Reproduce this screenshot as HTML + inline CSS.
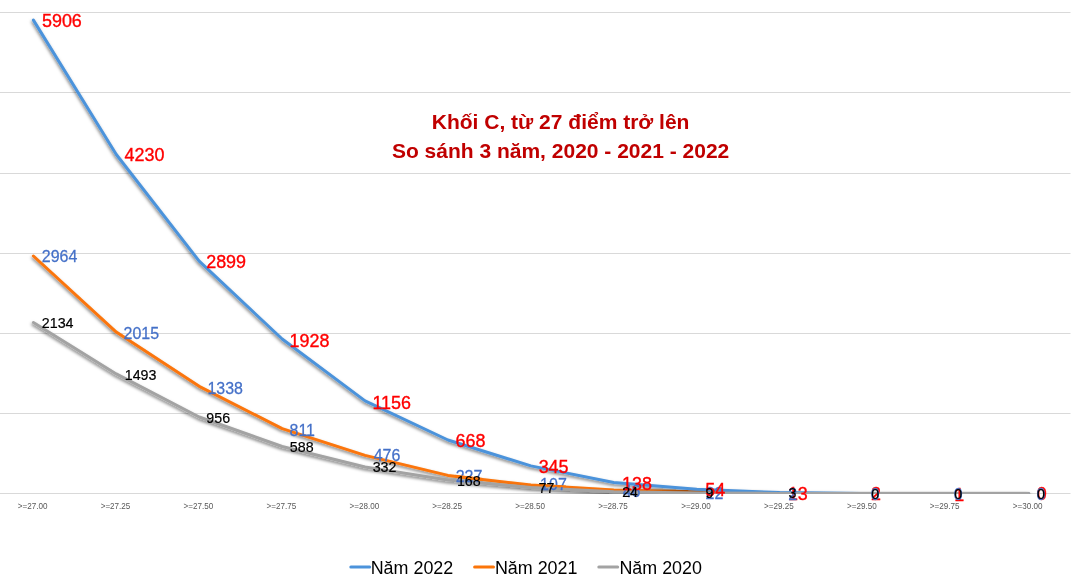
<!DOCTYPE html>
<html><head><meta charset="utf-8"><title>chart</title>
<style>
html,body{margin:0;padding:0;background:#fff;}
body{width:1076px;height:587px;overflow:hidden;}
svg{display:block;font-family:"Liberation Sans",sans-serif;will-change:transform;}
.g{stroke:#d9d9d9;stroke-width:1;}
.ln{fill:none;stroke-width:3;stroke-linejoin:round;stroke-linecap:round;}
.r{fill:#ff0000;font-size:18.3px;stroke:#ff0000;stroke-width:0.35;}
.b{fill:#4470c8;font-size:16.4px;stroke:#4470c8;stroke-width:0.25;}
.k{fill:#000;font-size:14.7px;stroke:#000;stroke-width:0.2;}
.ax{fill:#595959;font-size:9.25px;text-anchor:middle;}
.t{fill:#c00000;font-size:21px;font-weight:bold;text-anchor:middle;}
.lg{fill:#000;font-size:17.9px;}
</style></head><body>
<svg width="1076" height="587" viewBox="0 0 1076 587">
<defs>
<filter id="sh" x="-5%" y="-5%" width="110%" height="110%"><feDropShadow dx="-0.5" dy="1.8" stdDeviation="1.4" flood-color="#000" flood-opacity="0.5"/></filter>
<clipPath id="plot"><rect x="0" y="0" width="1076" height="494"/></clipPath>
<clipPath id="lab"><rect x="455.5" y="460" width="27.5" height="34"/></clipPath><clipPath id="lab2"><rect x="540" y="470" width="26" height="24"/></clipPath>
</defs>
<rect width="1076" height="587" fill="#fff"/>

<line class="g" x1="0" x2="1070.5" y1="12.50" y2="12.50"/>
<line class="g" x1="0" x2="1070.5" y1="92.50" y2="92.50"/>
<line class="g" x1="0" x2="1070.5" y1="173.50" y2="173.50"/>
<line class="g" x1="0" x2="1070.5" y1="253.50" y2="253.50"/>
<line class="g" x1="0" x2="1070.5" y1="333.50" y2="333.50"/>
<line class="g" x1="0" x2="1070.5" y1="413.50" y2="413.50"/>
<line class="g" x1="0" x2="1070.5" y1="493.50" y2="493.50"/>
<g clip-path="url(#plot)">
<path class="ln" filter="url(#sh)" stroke="#fb7509" d="M33.4,256.0 L116.3,332.1 L199.2,386.3 L282.2,428.6 L365.1,455.4 L448.0,475.4 L530.9,485.0 L613.8,489.9 L696.8,491.8 L779.7,493.4 L862.6,493.6 L945.5,493.6 L1028.4,493.6"/>
<path class="ln" filter="url(#sh)" stroke="#4c93db" d="M33.4,20.1 L116.3,154.5 L199.2,261.2 L282.2,339.0 L365.1,400.9 L448.0,440.0 L530.9,465.9 L613.8,482.5 L696.8,489.3 L779.7,492.6 L862.6,493.4 L945.5,493.5 L1028.4,493.6"/>
<path class="ln" filter="url(#sh)" stroke="#a3a3a3" d="M33.4,322.5 L116.3,373.9 L199.2,417.0 L282.2,446.5 L365.1,467.0 L448.0,480.1 L530.9,487.4 L613.8,491.7 L696.8,492.9 L779.7,493.4 L862.6,493.6 L945.5,493.6 L1028.4,493.6"/>
</g>
<text class="b" transform="translate(455.65,481.62) scale(0.975,1)">227</text>
<text class="b" transform="translate(540.10,490.49) scale(0.975,1)">107</text>
<g clip-path="url(#lab)">
<path class="ln" stroke="#fb7509" d="M33.4,256.0 L116.3,332.1 L199.2,386.3 L282.2,428.6 L365.1,455.4 L448.0,475.4 L530.9,485.0 L613.8,489.9 L696.8,491.8 L779.7,493.4 L862.6,493.6 L945.5,493.6 L1028.4,493.6"/>
</g>
<g clip-path="url(#lab2)">
<path class="ln" style="stroke-width:1.7" transform="translate(0,-0.65)" stroke="#fb7509" d="M33.4,256.0 L116.3,332.1 L199.2,386.3 L282.2,428.6 L365.1,455.4 L448.0,475.4 L530.9,485.0 L613.8,489.9 L696.8,491.8 L779.7,493.4 L862.6,493.6 L945.5,493.6 L1028.4,493.6"/>
</g>
<text class="b" transform="translate(41.75,261.99) scale(0.975,1)">2964</text>
<text class="b" transform="translate(123.55,338.69) scale(0.975,1)">2015</text>
<text class="b" transform="translate(207.40,393.79) scale(0.975,1)">1338</text>
<text class="b" transform="translate(289.50,435.56) scale(0.975,1)">811</text>
<text class="b" transform="translate(373.65,461.44) scale(0.975,1)">476</text>
<text class="b" transform="translate(622.65,496.91) scale(0.975,1)">46</text>
<text class="b" transform="translate(705.55,498.62) scale(0.975,1)">22</text>
<text class="r" transform="translate(41.94,26.74) scale(0.98,1)">5906</text>
<text class="r" transform="translate(124.52,160.94) scale(0.98,1)">4230</text>
<text class="r" transform="translate(206.16,267.89) scale(0.98,1)">2899</text>
<text class="r" transform="translate(289.58,346.79) scale(0.98,1)">1928</text>
<text class="r" transform="translate(372.38,408.79) scale(0.98,1)">1156</text>
<text class="r" transform="translate(455.56,446.94) scale(0.98,1)">668</text>
<text class="r" transform="translate(538.64,472.69) scale(0.98,1)">345</text>
<text class="r" transform="translate(622.08,489.69) scale(0.98,1)">138</text>
<text class="r" transform="translate(705.34,495.57) scale(0.98,1)">54</text>
<text class="r" transform="translate(787.88,499.64) scale(0.98,1)">13</text>
<text class="r" transform="translate(871.06,499.68) scale(0.98,1)">2</text>
<text class="r" transform="translate(954.18,500.68) scale(0.98,1)">1</text>
<text class="r" transform="translate(1036.74,499.84) scale(0.98,1)">0</text>
<text class="b" transform="translate(788.15,499.62) scale(0.975,1)">2</text>
<text class="b" transform="translate(870.80,499.74) scale(0.975,1)">0</text>
<text class="b" transform="translate(953.80,499.74) scale(0.975,1)">0</text>
<text class="b" transform="translate(1036.50,499.74) scale(0.975,1)">0</text>
<text class="k" transform="translate(41.83,327.90) scale(0.97,1)">2134</text>
<text class="k" transform="translate(124.71,380.00) scale(0.97,1)">1493</text>
<text class="k" transform="translate(206.33,422.95) scale(0.97,1)">956</text>
<text class="k" transform="translate(289.85,451.95) scale(0.97,1)">588</text>
<text class="k" transform="translate(372.65,471.75) scale(0.97,1)">332</text>
<text class="k" transform="translate(456.91,485.75) scale(0.97,1)">168</text>
<text class="k" transform="translate(538.53,492.97) scale(0.97,1)">77</text>
<text class="k" transform="translate(622.13,496.87) scale(0.97,1)">24</text>
<text class="k" transform="translate(705.43,497.75) scale(0.97,1)">9</text>
<text class="k" transform="translate(788.45,498.28) scale(0.97,1)">3</text>
<text class="k" transform="translate(871.25,498.78) scale(0.97,1)">0</text>
<text class="k" transform="translate(954.25,498.78) scale(0.97,1)">0</text>
<text class="k" transform="translate(1036.95,498.75) scale(0.97,1)">0</text>
<text class="ax" transform="translate(32.6,509) scale(0.875,1)">&gt;=27.00</text>
<text class="ax" transform="translate(115.5,509) scale(0.875,1)">&gt;=27.25</text>
<text class="ax" transform="translate(198.4,509) scale(0.875,1)">&gt;=27.50</text>
<text class="ax" transform="translate(281.4,509) scale(0.875,1)">&gt;=27.75</text>
<text class="ax" transform="translate(364.3,509) scale(0.875,1)">&gt;=28.00</text>
<text class="ax" transform="translate(447.2,509) scale(0.875,1)">&gt;=28.25</text>
<text class="ax" transform="translate(530.1,509) scale(0.875,1)">&gt;=28.50</text>
<text class="ax" transform="translate(613.0,509) scale(0.875,1)">&gt;=28.75</text>
<text class="ax" transform="translate(696.0,509) scale(0.875,1)">&gt;=29.00</text>
<text class="ax" transform="translate(778.9,509) scale(0.875,1)">&gt;=29.25</text>
<text class="ax" transform="translate(861.8,509) scale(0.875,1)">&gt;=29.50</text>
<text class="ax" transform="translate(944.7,509) scale(0.875,1)">&gt;=29.75</text>
<text class="ax" transform="translate(1027.6,509) scale(0.875,1)">&gt;=30.00</text>
<text class="t" x="560.6" y="129">Khối C, từ 27 điểm trở lên</text>
<text class="t" x="560.6" y="157.5">So sánh 3 năm, 2020 - 2021 - 2022</text>
<line x1="350.8" x2="369.7" y1="567" y2="567" stroke="#4c93db" stroke-width="3" stroke-linecap="round"/>
<text class="lg" x="370.7" y="573.5">Năm 2022</text>
<line x1="474.6" x2="493.5" y1="567" y2="567" stroke="#fb7509" stroke-width="3" stroke-linecap="round"/>
<text class="lg" x="494.9" y="573.5">Năm 2021</text>
<line x1="598.8" x2="617.7" y1="567" y2="567" stroke="#a3a3a3" stroke-width="3" stroke-linecap="round"/>
<text class="lg" x="619.4" y="573.5">Năm 2020</text>
</svg></body></html>
